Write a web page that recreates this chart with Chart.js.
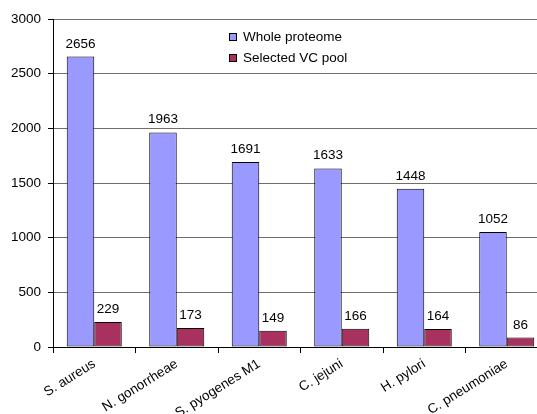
<!DOCTYPE html>
<html>
<head>
<meta charset="utf-8">
<script src="https://cdn.jsdelivr.net/npm/chart.js@4/dist/chart.umd.min.js"></script>
<style>
  html, body { margin: 0; padding: 0; background: #fff; overflow: hidden; }
  #wrap { width: 550px; height: 414px; }
</style>
</head>
<body>
<div id="wrap"><canvas id="c" width="550" height="414"></canvas></div>
<script>
const categories = ["S. aureus", "N. gonorrheae", "S. pyogenes M1", "C. jejuni", "H. pylori", "C. pneumoniae"];
const wholeProteome = [2656, 1963, 1691, 1633, 1448, 1052];
const selectedVCPool = [229, 173, 149, 166, 164, 86];
const seriesNames = ["Whole proteome", "Selected VC pool"];
const yMin = 0, yMax = 3000, yStep = 500;

const FONT = "'Liberation Sans', Arial, sans-serif";
Chart.defaults.font.family = FONT;
Chart.defaults.font.size = 13.5;
Chart.defaults.color = "#000";

const valueLabels = {
  id: "valueLabels",
  afterDatasetsDraw(chart) {
    const ctx = chart.ctx;
    ctx.save();
    ctx.font = "13.5px " + FONT;
    ctx.fillStyle = "#000";
    ctx.textAlign = "center";
    ctx.textBaseline = "alphabetic";
    chart.data.datasets.forEach((ds, i) => {
      chart.getDatasetMeta(i).data.forEach((bar, j) => {
        ctx.fillText(String(ds.data[j]), bar.x, bar.y - 9);
      });
    });
    ctx.restore();
  }
};

const innerLegend = {
  id: "innerLegend",
  afterDraw(chart) {
    const ctx = chart.ctx;
    ctx.save();
    ctx.font = "13.5px " + FONT;
    ctx.textAlign = "left";
    ctx.textBaseline = "middle";
    const x0 = 229, y0 = 37, dy = 21;
    chart.data.datasets.forEach((ds, i) => {
      const y = y0 + i * dy;
      ctx.fillStyle = ds.backgroundColor;
      ctx.fillRect(x0, y - 4, 7, 7);
      ctx.strokeStyle = "#000";
      ctx.lineWidth = 1;
      ctx.strokeRect(x0 + 0.5, y - 3.5, 7, 7);
      ctx.fillStyle = "#000";
      ctx.fillText(ds.label, x0 + 14, y);
    });
    ctx.restore();
  }
};

new Chart(document.getElementById("c"), {
  type: "bar",
  data: {
    labels: categories,
    datasets: [
      { label: seriesNames[0], data: wholeProteome, backgroundColor: "#9999FF", borderColor: "#000", borderWidth: 1, borderSkipped: false, categoryPercentage: 0.667, barPercentage: 1.0 },
      { label: seriesNames[1], data: selectedVCPool, backgroundColor: "#A8315F", borderColor: "#000", borderWidth: 1, borderSkipped: false, categoryPercentage: 0.667, barPercentage: 1.0 }
    ]
  },
  options: {
    responsive: false,
    animation: false,
    devicePixelRatio: 1,
    layout: { padding: { top: 19, right: 2, left: 0, bottom: 0 }, autoPadding: false },
    plugins: { legend: { display: false }, tooltip: { enabled: false } },
    scales: {
      x: {
        grid: { drawOnChartArea: false, offset: true, tickLength: 6, tickColor: "#000" },
        border: { color: "#000" },
        ticks: { maxRotation: 32, minRotation: 32, padding: 3, color: "#000", font: { size: 13.5 } },
        afterFit(scale) { scale.height = 67; }
      },
      y: {
        min: yMin, max: yMax,
        grid: { color: "#6e6e6e", tickLength: 5, tickColor: "#000" },
        border: { color: "#000" },
        ticks: { stepSize: yStep, padding: 7, color: "#000", font: { size: 13.5 }, callback: (v) => String(v) },
        afterFit(scale) { scale.width = 53; }
      }
    }
  },
  plugins: [valueLabels, innerLegend]
});
</script>
</body>
</html>
